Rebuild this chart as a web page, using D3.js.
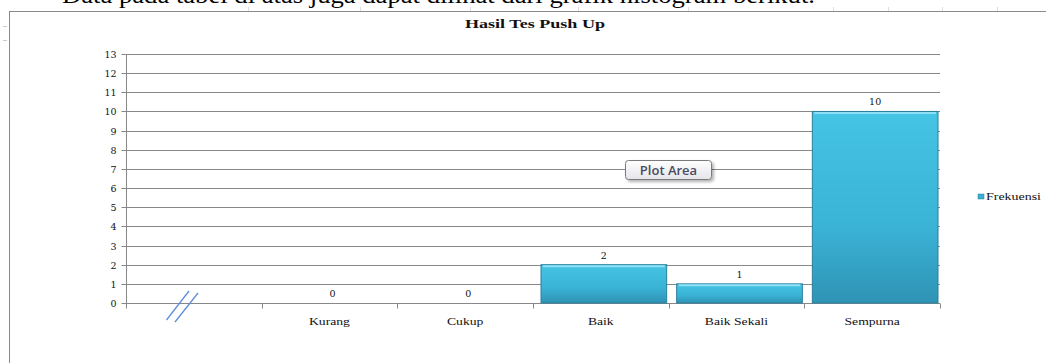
<!DOCTYPE html>
<html><head><meta charset="utf-8">
<script src="https://cdn.jsdelivr.net/npm/d3@7"></script>
<style>body{margin:0;background:#fff;overflow:hidden}svg{display:block}</style>
</head><body>
<svg id="c" width="1046" height="363"></svg>
<script>
const categories = ["", "Kurang", "Cukup", "Baik", "Baik Sekali", "Sempurna"];
const frekuensi = [null, 0, 0, 2, 1, 10];
const yTicks = [0,1,2,3,4,5,6,7,8,9,10,11,12,13];
const title = "Hasil Tes  Push Up";
const seriesName = "Frekuensi";
const caption = "Data pada tabel di atas  juga dapat dilihat dari grafik histogram berikut.";

const svg = d3.select("#c");
const defs = svg.append("defs");
const g1 = defs.append("linearGradient").attr("id","bar").attr("x1",0).attr("x2",0).attr("y1",0).attr("y2",1);
g1.append("stop").attr("offset","0%").attr("stop-color","#45c4e4");
g1.append("stop").attr("offset","60%").attr("stop-color","#3ab3d6");
g1.append("stop").attr("offset","100%").attr("stop-color","#2f93b4");
const g2 = defs.append("linearGradient").attr("id","tip").attr("x1",0).attr("x2",0).attr("y1",0).attr("y2",1);
g2.append("stop").attr("offset","0%").attr("stop-color","#ffffff");
g2.append("stop").attr("offset","100%").attr("stop-color","#e4e4ea");
const f = defs.append("filter").attr("id","sh").attr("x","-20%").attr("y","-20%").attr("width","150%").attr("height","170%");
f.append("feDropShadow").attr("dx",2).attr("dy",2).attr("stdDeviation",1.5).attr("flood-color","#000").attr("flood-opacity",0.3);

function stretch(sel, k){ sel.each(function(){ const w=this.getComputedTextLength(); if(w>0) d3.select(this).attr("textLength",w*k).attr("lengthAdjust","spacingAndGlyphs"); }); }

// caption text (cut at top)
svg.append("text").attr("x",62).attr("y",3).attr("font-family","Liberation Serif, serif")
  .attr("font-size",23).attr("fill","#000").attr("textLength",753).attr("lengthAdjust","spacingAndGlyphs").text(caption);

// frame
svg.append("line").attr("x1",9).attr("x2",1046).attr("y1",11.5).attr("y2",11.5).attr("stroke","#8a8a8a");
svg.append("line").attr("x1",9.5).attr("x2",9.5).attr("y1",11).attr("y2",363).attr("stroke","#8a8a8a");
[26,40].forEach(y=>svg.append("line").attr("x1",3).attr("x2",7).attr("y1",y+.5).attr("y2",y+.5).attr("stroke","#ccc"));
[248,360,470,578,688,833,888,942,997].forEach(x=>svg.append("line").attr("x1",x+.5).attr("x2",x+.5).attr("y1",7).attr("y2",11).attr("stroke","#ddd"));

const x = d3.scaleBand().domain(categories.map((c,i)=>i)).range([126,940]).padding(0);
const y = d3.scaleLinear().domain([0,13]).range([303,54]);

// title
svg.append("text").attr("x",535).attr("y",28).attr("text-anchor","middle")
  .attr("font-family","Liberation Serif, serif").attr("font-weight","bold").attr("font-size",12)
  .attr("fill","#111").attr("textLength",140).attr("lengthAdjust","spacingAndGlyphs").text(title);

// gridlines
svg.append("g").selectAll("line").data(yTicks.filter(t=>t>0)).join("line")
  .attr("x1",126).attr("x2",940).attr("y1",d=>Math.round(y(d))+.5).attr("y2",d=>Math.round(y(d))+.5)
  .attr("stroke","#888").attr("stroke-width",1.1);

// y axis
const ya = svg.append("g").attr("transform","translate(126.5,0)")
  .call(d3.axisLeft(y).tickValues(yTicks).tickSize(5).tickPadding(5).tickFormat(d3.format("d")));
ya.select(".domain").attr("stroke","#888").attr("d","M0,"+y(13)+"V"+(y(0)+0.5));
ya.selectAll(".tick line").attr("stroke","#888");
ya.selectAll(".tick").attr("transform",d=>"translate(0,"+(Math.round(y(d))+.5)+")");
ya.selectAll("text").attr("font-family","DejaVu Serif, serif").attr("font-size",9.5).attr("fill","#111");

// x axis
const xa = svg.append("g").attr("transform","translate(0,"+(Math.round(y(0))+.5)+")");
xa.append("line").attr("x1",126).attr("x2",940).attr("stroke","#888");
xa.selectAll("line.t").data(d3.range(categories.length+1)).join("line").attr("class","t")
  .attr("x1",i=>Math.round(126+i*x.step())+.5).attr("x2",i=>Math.round(126+i*x.step())+.5)
  .attr("y1",0).attr("y2",5).attr("stroke","#888");
xa.selectAll("text").data(categories).join("text")
  .attr("x",(d,i)=>x(i)+x.bandwidth()/2).attr("y",21).attr("text-anchor","middle")
  .attr("font-family","Liberation Serif, serif").attr("font-size",10.5).attr("fill","#111").text(d=>d)
  .call(stretch, 1.3);

// bars
const padL = 8, padR = 2;
const data = categories.map((c,i)=>({c,i,v:frekuensi[i]})).filter(d=>d.v!==null);
const bars = svg.append("g");
bars.selectAll("rect.b").data(data.filter(d=>d.v>0)).join("rect").attr("class","b")
  .attr("x",d=>x(d.i)+padL).attr("width",x.bandwidth()-padL-padR)
  .attr("y",d=>y(d.v)).attr("height",d=>y(0)-y(d.v))
  .attr("fill","url(#bar)").attr("stroke","#2a7f9c").attr("stroke-width",1);
bars.selectAll("line.h").data(data.filter(d=>d.v>0)).join("line").attr("class","h")
  .attr("x1",d=>x(d.i)+padL+2).attr("x2",d=>x(d.i)+x.bandwidth()-padR-2)
  .attr("y1",d=>y(d.v)+1.5).attr("y2",d=>y(d.v)+1.5).attr("stroke","#8fe0f4").attr("stroke-width",2);

// value labels
svg.append("g").selectAll("text").data(data).join("text")
  .attr("x",d=>x(d.i)+x.bandwidth()/2+3).attr("y",d=>y(d.v)-6).attr("text-anchor","middle")
  .attr("font-family","DejaVu Serif, serif").attr("font-size",9.5).attr("fill","#111").text(d=>d.v);

// break marks
[[166.5,320,189,291],[175,322,198,293]].forEach(l=>svg.append("line").attr("x1",l[0]).attr("y1",l[1]).attr("x2",l[2]).attr("y2",l[3]).attr("stroke","#5d8fd8").attr("stroke-width",1.3));

// legend
svg.append("rect").attr("x",978).attr("y",194).attr("width",6).attr("height",5).attr("fill","#3aafd2").attr("stroke","#2a7f9c").attr("stroke-width",0.5);
svg.append("text").attr("x",986).attr("y",200).attr("font-family","Liberation Serif, serif").attr("font-size",10).attr("fill","#111")
  .attr("textLength",55).attr("lengthAdjust","spacingAndGlyphs").text(seriesName);

// Plot Area tooltip
const tp = svg.append("g").attr("transform","translate(625.5,160.5)");
tp.append("rect").attr("width",86).attr("height",19).attr("rx",3).attr("fill","url(#tip)").attr("stroke","#7a7a7a").attr("filter","url(#sh)");
tp.append("text").attr("x",43).attr("y",14).attr("text-anchor","middle").attr("font-family","Open Sans, DejaVu Sans, sans-serif")
  .attr("font-size",13).attr("font-weight",600).attr("fill","#4a4a62").text("Plot Area");
</script>
</body></html>
